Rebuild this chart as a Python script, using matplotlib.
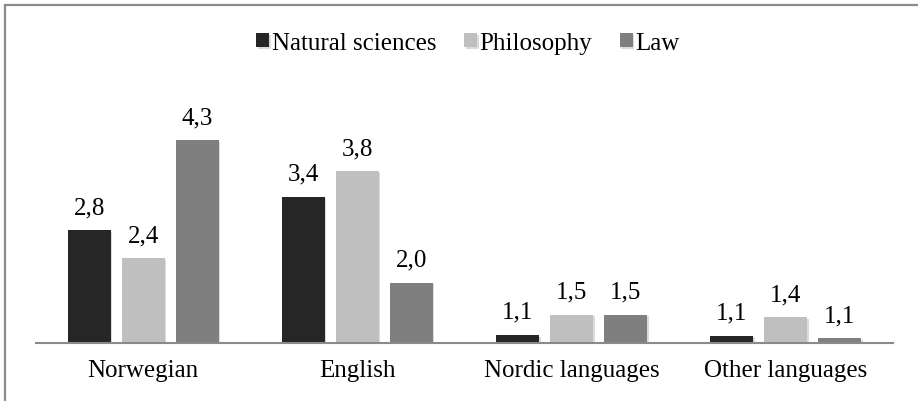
import matplotlib.pyplot as plt
import numpy as np
from matplotlib import patheffects as pe
from matplotlib.lines import Line2D

plt.rcParams['font.family'] = ['Liberation Serif', 'DejaVu Serif']

categories = ['Norwegian', 'English', 'Nordic languages', 'Other languages']
natural = [2.83, 3.38, 1.13, 1.12]
philosophy = [2.38, 3.79, 1.46, 1.42]
law = [4.30, 1.98, 1.46, 1.08]
series_names = ['Natural sciences', 'Philosophy', 'Law']
colors = ['#262626', '#bfbfbf', '#7f7f7f']

W, H = 918, 402
fig = plt.figure(figsize=(W / 100, H / 100), dpi=100)
ax = fig.add_axes([36 / W, (H - 344) / H, 857 / W, 246 / H])

x = np.arange(len(categories))
pitch = 0.252
width = 0.2
shadow = [pe.SimplePatchShadow(offset=(1.2, -1.2), shadow_rgbFace='#999999', alpha=0.35),
          pe.Normal()]

for i, (name, vals, col) in enumerate(zip(series_names, [natural, philosophy, law], colors)):
    xs = x + (i - 1) * pitch
    bars = ax.bar(xs, vals, width=width, color=col, label=name, zorder=2)
    for b in bars:
        b.set_path_effects(shadow)
    for xv, v in zip(xs, vals):
        ax.annotate(f"{v:.1f}".replace('.', ','), (xv, v), xytext=(0, 12.3),
                    textcoords='offset points', ha='center', va='baseline',
                    fontsize=18)

ax.set_xlim(-0.5, 3.5)
ax.set_ylim(1.0, 5.0)
ax.set_xticks(x)
ax.set_xticklabels(categories, fontsize=18)
ax.tick_params(axis='x', length=0, pad=11.5)
ax.set_yticks([])
for s in ['top', 'right', 'left']:
    ax.spines[s].set_visible(False)
ax.spines['bottom'].set_color('#8a8a8a')
ax.spines['bottom'].set_linewidth(1.5)
ax.spines['bottom'].set_zorder(3)

fig.legend(loc='center', bbox_to_anchor=(468 / W, 1 - 44 / H), ncol=3, frameon=False,
           fontsize=18, handlelength=0.52, handleheight=0.52, handletextpad=0.1,
           columnspacing=1.1, borderaxespad=0)

# outer frame (only top and left edges visible)
fig.add_artist(Line2D([4.5 / W, 1], [1 - 5.5 / H, 1 - 5.5 / H], transform=fig.transFigure,
                      color='#8c8c8c', lw=1.6))
fig.add_artist(Line2D([4.5 / W, 4.5 / W], [0, 1 - 5.5 / H], transform=fig.transFigure,
                      color='#8c8c8c', lw=1.6))

fig.savefig('out.png', dpi=100)
